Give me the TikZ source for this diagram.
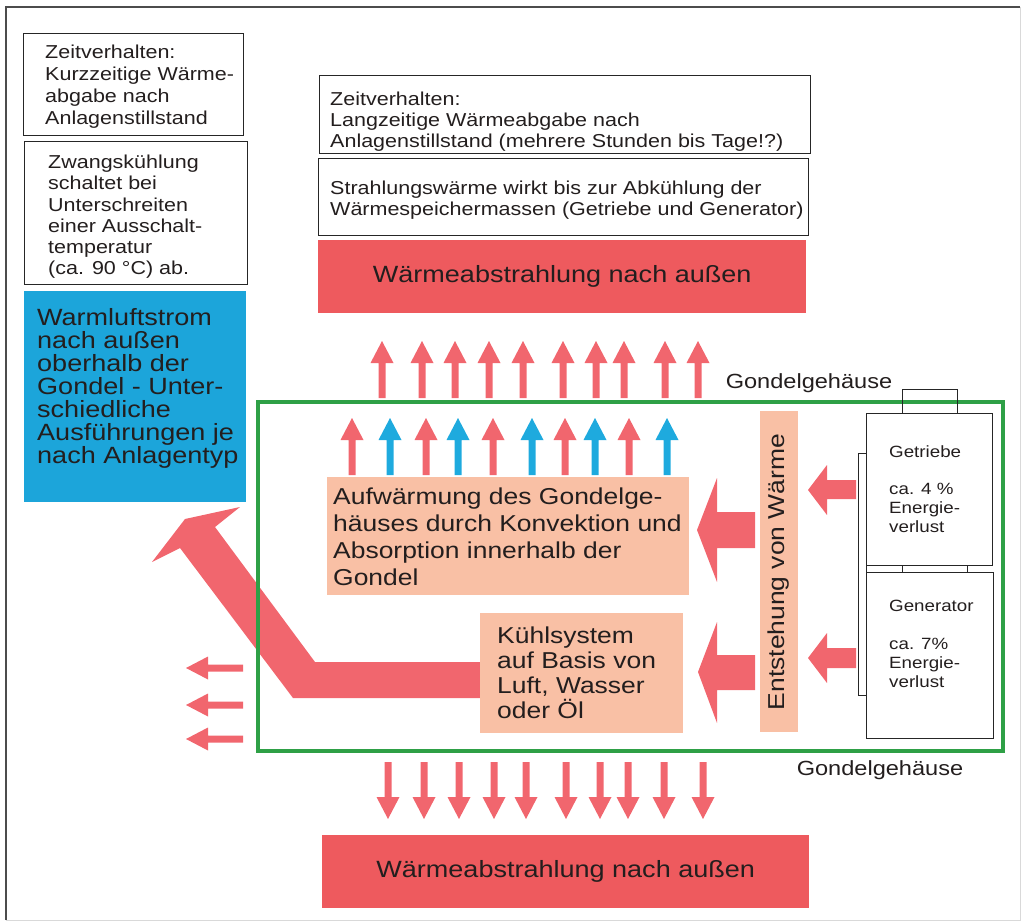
\documentclass[tikz,border=0pt]{standalone}
\usepackage{fontspec}
\setmainfont{Liberation Sans}[FakeStretch=1.15]
\usetikzlibrary{positioning}
\definecolor{rotbox}{RGB}{238,90,94}
\definecolor{rotpfeil}{RGB}{241,102,110}
\definecolor{blaubox}{RGB}{28,165,218}
\definecolor{blaupfeil}{RGB}{30,170,222}
\definecolor{lachs}{RGB}{249,192,165}
\definecolor{gruen}{RGB}{46,160,70}
\definecolor{schrift}{RGB}{35,30,30}
\newcommand\schriftkasten{\fontsize{18.7}{22}\selectfont}
\newcommand\schriftgross{\fontsize{23.5}{23}\selectfont}
\newcommand\schriftklein{\fontsize{16.3}{19}\selectfont}

\begin{document}
\begin{tikzpicture}[x=1pt,y=-1pt]
			\tikzset{rahmen/.style={draw=black!85, line width=1.1pt, inner sep=0pt, anchor=north west}}
			\tikzset{txt/.style={align=left, inner sep=0pt, text=schrift, anchor=north west}}
			\tikzset{flaeche/.style={inner sep=0pt, anchor=north west}}
			\tikzset{pics/pfeil/.style={code={\fill (-3.5,0) -- (-3.5,-35) -- (-11.5,-35) -- (0,-57) -- (11.5,-35) -- (3.5,-35) -- (3.5,0) -- cycle;}}}
			\useasboundingbox (0,0) rectangle (1022,923);
			\draw[gray!30, line width=1pt] (1020,7) -- (1020,920) -- (6,920);
			\draw[black!70, line width=1.3pt] (6,920) -- (6,7) -- (1020,7);
			% linke Spalte
			\node[rahmen, minimum width=220pt, minimum height=102pt] (kurz) at (23,33) {};
			\node[txt, font=\schriftkasten] (kurztxt) at (45,45) {Zeitverhalten:\\Kurzzeitige Wärme-\\abgabe nach\\Anlagenstillstand};
			\node[rahmen, minimum width=223pt, minimum height=143pt] (zwang) at (24,141) {};
			\node[txt, font=\fontsize{18.7}{21.2}\selectfont] (zwangtxt) at (48,155) {Zwangskühlung\\schaltet bei\\Unterschreiten\\einer Ausschalt-\\temperatur\\(ca. 90 °C) ab.};
			\node[flaeche, fill=blaubox, minimum width=222pt, minimum height=211pt] (warmluft) at (24,291) {};
			\node[txt, font=\schriftgross] (warmlufttxt) at (37,308) {Warmluftstrom\\nach außen\\oberhalb der\\Gondel - Unter-\\schiedliche\\Ausführungen je\\nach Anlagentyp};
			% obere Kaesten
			\node[rahmen, minimum width=491pt, minimum height=78pt] (lang) at (319,75) {};
			\node[txt, font=\fontsize{18.7}{21}\selectfont] (langtxt) at (330,92) {Zeitverhalten:\\Langzeitige Wärmeabgabe nach\\Anlagenstillstand (mehrere Stunden bis Tage!?)};
			\node[rahmen, minimum width=490pt, minimum height=77pt] (strahl) at (318,158) {};
			\node[txt, font=\fontsize{18.7}{21}\selectfont] (strahltxt) at (330,181) {Strahlungswärme wirkt bis zur Abkühlung der\\Wärmespeichermassen (Getriebe und Generator)};
			\node[flaeche, fill=rotbox, minimum width=488pt, minimum height=73pt, text=schrift, font=\schriftgross] (abstrahlo) at (318,240) {Wärmeabstrahlung nach außen};
			\node[flaeche, fill=rotbox, minimum width=487pt, minimum height=73pt, text=schrift, font=\schriftgross] (abstrahlu) at (322,835) {Wärmeabstrahlung nach außen};
			% Pfeile
			\foreach \x in {382,422,455,489,523,563,596,624,665,698} \pic[color=rotpfeil] at (\x,398) {pfeil};
			\foreach \x/\c in {352/rotpfeil,390/blaupfeil,426/rotpfeil,458/blaupfeil,493/rotpfeil,532/blaupfeil,565/rotpfeil,595/blaupfeil,629/rotpfeil,667/blaupfeil} \pic[color=\c] at (\x,475) {pfeil};
			\foreach \x in {388,424,459,494,526,566,600,628,664,703} \pic[color=rotpfeil, rotate=180] at (\x,762) {pfeil};
			\foreach \y in {668,705,739} \pic[color=rotpfeil, rotate=90] at (243,\y) {pfeil};
			\fill[rotpfeil] (480,662) -- (315,662) -- (215,527) -- (240,507) -- (185,519) -- (152,562) -- (180,548) -- (293,698) -- (480,698) -- cycle;
			% Gondel
			\node[flaeche, draw=gruen, line width=4pt, minimum width=745pt, minimum height=349pt] (gondel) at (256,400) {};
			\node[text=schrift, font=\fontsize{20.5}{24}\selectfont, inner sep=0pt] (gehoben) at (809,383) {Gondelgehäuse};
			\node[text=schrift, font=\fontsize{20.5}{24}\selectfont, inner sep=0pt] (gehunten) at (880,770) {Gondelgehäuse};
			\node[flaeche, fill=lachs, minimum width=362pt, minimum height=118pt] (aufw) at (327,477) {};
			\node[txt, anchor=west, font=\fontsize{23}{27}\selectfont] (aufwtxt) at (333,536.5) {Aufwärmung des Gondelge-\\häuses durch Konvektion und\\Absorption innerhalb der\\Gondel};
			\node[flaeche, fill=lachs, minimum width=203pt, minimum height=120pt] (kuehl) at (480,613) {};
			\node[txt, anchor=west, font=\fontsize{23}{25}\selectfont] (kuehltxt) at (497,673) {Kühlsystem\\auf Basis von\\Luft, Wasser\\oder Öl};
			\node[flaeche, fill=lachs, minimum width=38pt, minimum height=321pt] (entst) at (760,411) {};
			\node[text=schrift, rotate=90, font=\fontsize{23}{25}\selectfont, inner sep=0pt] (entsttxt) at (779,572) {Entstehung von Wärme};
			\fill[rotpfeil] (755,512) -- (717,512) -- (717,478) -- (697,530) -- (717,582) -- (717,548) -- (755,548) -- cycle;
			\fill[rotpfeil] (755,655) -- (717,655) -- (717,622) -- (698,672) -- (717,723) -- (717,690) -- (755,690) -- cycle;
			\fill[rotpfeil] (856,480) -- (827,480) -- (827,465) -- (808,490) -- (827,515) -- (827,499) -- (856,499) -- cycle;
			\fill[rotpfeil] (856,648) -- (827,648) -- (827,633) -- (808,658) -- (827,683) -- (827,668) -- (856,668) -- cycle;
			% Getriebe und Generator
			\node[rahmen, minimum width=8pt, minimum height=242pt] (leiste) at (858,453) {};
			\node[rahmen, minimum width=55pt, minimum height=24pt] (deckel) at (902,389) {};
			\node[rahmen, fill=white, minimum width=126pt, minimum height=152pt] (getriebe) at (866,413) {};
			\node[rahmen, minimum width=65pt, minimum height=7pt] (kupplung) at (902,565) {};
			\node[rahmen, fill=white, minimum width=127pt, minimum height=166pt] (generator) at (866,572) {};
			\node[txt, font=\schriftklein] (getriebetxt) at (889,445) {Getriebe\\[18pt]ca. 4 \%\\Energie-\\verlust};
			\node[txt, font=\schriftklein] (generatortxt) at (889,600) {Generator\\[19pt]ca. 7\%\\Energie-\\verlust};
\end{tikzpicture}
\end{document}
